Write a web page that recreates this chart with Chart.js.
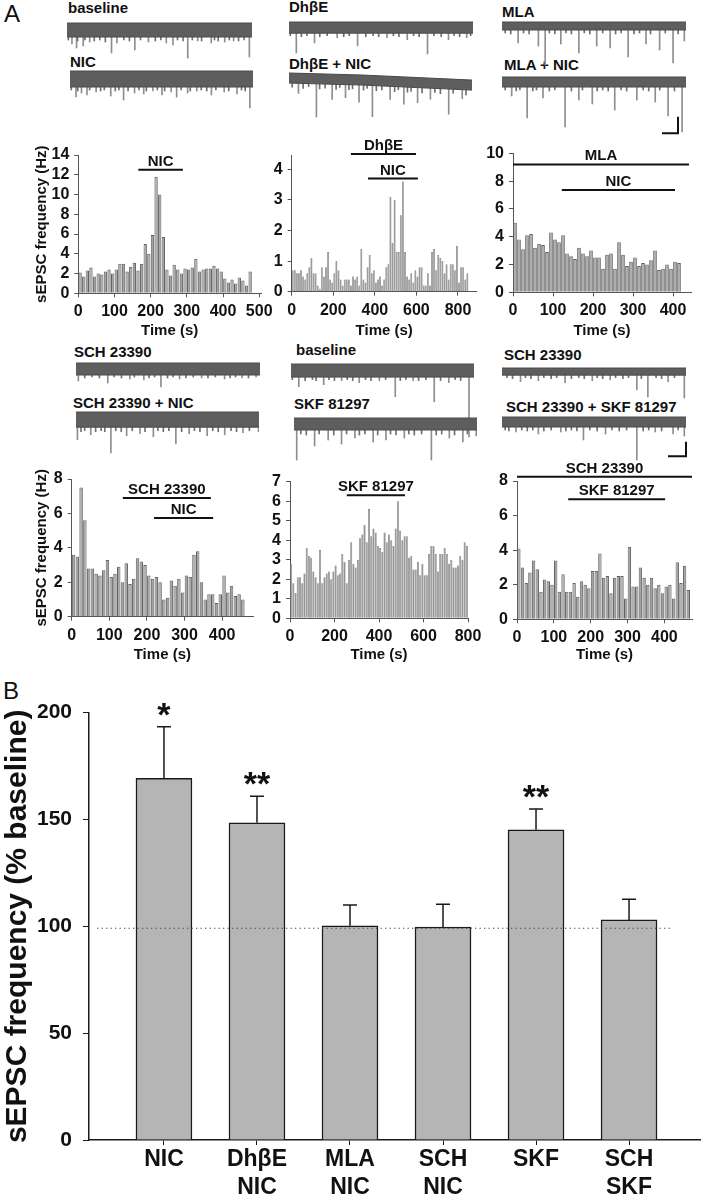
<!DOCTYPE html>
<html><head><meta charset="utf-8">
<script src="https://cdn.jsdelivr.net/npm/chart.js@4.4.0/dist/chart.umd.min.js"></script>
<style>
html,body{margin:0;padding:0;background:#fff;}
body{width:704px;height:1200px;position:relative;overflow:hidden;font-family:'Liberation Sans',Arial,sans-serif;}
canvas{position:absolute;}
.lbl{position:absolute;font-weight:bold;font-size:15px;line-height:16px;white-space:nowrap;color:#111;}
.panel{position:absolute;font-size:24px;line-height:26px;color:#111;}
</style></head><body>
<div class="panel" style="left:4px;top:1px">A</div>
<div class="panel" style="left:3px;top:678px">B</div>
<div class="lbl" style="left:68px;top:0px">baseline</div>
<div class="lbl" style="left:70px;top:54px">NIC</div>
<div class="lbl" style="left:289px;top:-1px">DhβE</div>
<div class="lbl" style="left:289px;top:56px">DhβE + NIC</div>
<div class="lbl" style="left:502px;top:4px">MLA</div>
<div class="lbl" style="left:504px;top:57px">MLA + NIC</div>
<div class="lbl" style="left:74px;top:344px">SCH 23390</div>
<div class="lbl" style="left:73px;top:395px">SCH 23390 + NIC</div>
<div class="lbl" style="left:296px;top:342px">baseline</div>
<div class="lbl" style="left:294px;top:396px">SKF 81297</div>
<div class="lbl" style="left:504px;top:347px">SCH 23390</div>
<div class="lbl" style="left:506px;top:399px">SCH 23390 + SKF 81297</div>
<script>
// ---------------- DATA ----------------
// Panel B
const bCategories = [['NIC'], ['DhβE','NIC'], ['MLA','NIC'], ['SCH','NIC'], ['SKF'], ['SCH','SKF']];
const bMeans = [169.3, 148.5, 100.3, 99.7, 145.2, 103.0];
const bSem = [24.1, 12.4, 9.7, 10.6, 9.7, 9.7];
const bStars = ['*', '**', '', '', '**', ''];
const bYTicks = [0, 50, 100, 150, 200];
const bBaseline = 99.1;
const bBaselineSpan = [-0.72, 5.44];

// Panel A histograms (sEPSC frequency, Hz, 10 s bins)
const binSeconds = 10;
const h1Values = [2.1,1.7,2.3,2.6,1.7,2.0,1.9,2.2,2.4,2.0,2.4,3.0,3.0,2.2,2.7,3.1,2.3,3.0,5.0,4.0,5.9,11.8,10.0,5.7,2.4,1.8,2.9,2.4,2.0,2.5,2.4,2.6,3.5,2.2,2.4,2.5,2.5,2.8,2.5,2.2,1.5,1.1,1.4,1.0,1.6,1.3,0.8,2.2];
const h2Values = [0.7,0.7,0.6,0.6,0.7,0.5,0.4,0.6,0.8,1.1,0.6,0.6,0.2,0.1,0.8,0.5,0.8,1.3,0.4,0.3,0.6,1.0,0.7,0.4,0.2,0.4,0.4,0.4,0.2,0.5,0.4,0.5,0.2,1.4,0.4,0.3,0.8,1.2,0.6,0.7,0.3,0.4,0.5,0.2,0.4,0.8,0.9,3.1,1.6,3.0,1.3,1.3,2.5,3.6,1.3,0.5,0.4,0.6,0.3,0.7,0.5,0.8,0.8,0.2,0.2,0.6,0.2,1.3,1.4,0.7,1.2,1.1,1.0,0.6,0.9,0.4,0.9,0.9,0.7,1.5,0.3,0.8,0.8,0.4,0.6];
const h3Values = [5.0,3.8,3.1,4.1,4.2,3.2,3.5,3.4,2.9,4.3,3.8,3.6,4.1,2.8,2.6,2.4,3.2,2.8,2.6,3.0,2.5,2.5,1.7,2.7,2.8,1.7,3.6,2.7,1.9,2.2,2.5,1.9,2.1,2.0,2.3,3.0,1.6,1.7,2.0,1.7,2.2,2.1];
const h4Values = [3.6,3.5,7.5,5.6,2.8,2.8,2.5,2.4,2.7,3.3,2.3,2.5,2.9,2.0,3.1,1.9,2.2,3.4,3.2,3.0,2.4,2.2,2.3,2.0,1.0,1.1,2.1,1.8,2.2,1.4,2.4,2.3,3.6,3.8,2.0,1.0,1.3,1.3,0.8,1.3,2.4,1.4,1.8,1.2,1.3,1.0];
const h5Values = [2.8,1.8,1.3,2.1,2.1,1.8,2.3,3.6,3.2,3.1,2.4,2.1,1.8,3.5,1.8,2.1,2.3,2.4,2.0,2.4,2.7,2.2,2.3,3.3,2.9,1.8,3.0,3.9,2.8,2.6,3.0,4.1,4.3,4.8,3.9,5.6,4.2,4.6,4.4,3.7,3.6,3.4,4.4,3.9,4.3,4.0,3.7,4.6,6.0,4.5,4.0,4.2,4.2,3.1,3.2,2.5,2.5,2.9,2.2,2.8,2.2,2.2,3.3,3.7,3.7,3.3,2.4,3.3,3.3,3.6,3.3,2.8,3.0,2.6,2.6,2.7,3.2,3.0,3.9,3.7];
const h6Values = [4.1,3.0,2.1,2.7,3.4,2.9,1.6,2.3,2.2,2.0,3.4,1.6,2.6,1.6,1.6,2.1,1.3,2.2,2.0,1.8,2.8,2.8,3.8,2.4,2.5,1.5,2.4,2.5,2.5,1.2,4.2,1.9,1.9,3.0,2.4,2.0,2.4,1.8,2.0,1.5,1.9,2.0,1.2,3.3,2.1,3.1,1.7];

// axis ticks of the histograms
const h1XTicks = [0,100,200,300,400,500], h1YTicks = [0,2,4,6,8,10,12,14];
const h2XTicks = [0,200,400,600,800],     h2YTicks = [0,1,2,3,4];
const h3XTicks = [0,100,200,300,400],     h3YTicks = [0,2,4,6,8,10];
const h4XTicks = [0,100,200,300,400],     h4YTicks = [0,2,4,6,8];
const h5XTicks = [0,200,400,600,800],     h5YTicks = [0,1,2,3,4,5,6,7];
const h6XTicks = [0,100,200,300,400],     h6YTicks = [0,2,4,6,8];

// drug application bars (start s, end s, drawn at y-level)
const h1Drugs = [{label:'NIC', from:166, to:289, level:12.5}];
const h2Drugs = [{label:'DhβE', from:285, to:598, level:4.5}, {label:'NIC', from:367, to:607, level:3.7}];
const h3Drugs = [{label:'MLA', from:0, to:440, level:9.2}, {label:'NIC', from:122, to:405, level:7.36}];
const h4Drugs = [{label:'SCH 23390', from:136, to:370, level:6.9}, {label:'NIC', from:219, to:376, level:5.74}];
const h5Drugs = [{label:'SKF 81297', from:255, to:517, level:6.3}];
const h6Drugs = [{label:'SCH 23390', from:0, to:475, level:8.24}, {label:'SKF 81297', from:139, to:402, level:6.95}];

// Current traces: noise band half-width, baseline drift [pos %, offset],
// large events [pos %, depth] and small events [pos %, depth] (arbitrary amplitude units)
const trBaseline1 = {half:7, drift:[[0,0],[100,0]],
  spikes:[[2.4,14],[4.9,18],[8.5,16],[12,12],[23.8,23],[26.7,13],[36.4,20],[43.7,12],[53.4,13],[57,15],[65,28],[70.4,11],[77.7,13],[85,12],[89.8,11],[98.3,27]],
  small:[[1,10],[6,11],[10,10],[15,11],[18,10],[21,12],[31,10],[34,11],[40,10],[48,11],[51,10],[60,10],[63,11],[68,10],[73,11],[80,10],[82,11],[88,10],[93,11],[96,10]]};
const trNic1 = {half:8, drift:[[0,0],[100,0]],
  spikes:[[3,18],[6,14],[9,16],[14,13],[22,17],[29,21],[35,14],[40,15],[45,12],[50,16],[55,13],[58,18],[64,14],[69,12],[77,16],[84,13],[91,15],[98,29]],
  small:[[1,11],[4.5,12],[11,11],[17,12],[19,11],[25,12],[27,11],[32,12],[38,11],[42,12],[48,11],[52,12],[61,11],[66,12],[72,11],[75,12],[80,11],[87,12],[94,11],[96,12]]};
const trDhbe = {half:5.5, drift:[[0,0],[100,0]],
  spikes:[[3.7,25],[13.6,15],[25.9,10],[37,18],[53,10],[64,12],[75,26],[86.4,12],[96.3,10]],
  small:[[1,8],[7,9],[10,8],[17,9],[21,8],[30,9],[33,8],[42,9],[46,8],[49,9],[57,8],[60,9],[68,8],[71,9],[79,8],[83,9],[90,8],[93,9],[99,8]]};
const trDhbeNic = {half:5, drift:[[0,0],[40,-2],[100,-7]],
  spikes:[[4.9,15],[14.7,38],[23.3,20],[30.6,18],[38,22],[45.3,36],[55,18],[62.5,22],[70,20],[77,16],[87,30],[94.4,14]],
  small:[[2,9],[8,10],[11,8],[17,10],[20,9],[26,10],[28,8],[33,10],[35,9],[41,10],[43,8],[48,10],[51,9],[58,10],[60,8],[65,10],[67,9],[73,10],[80,9],[83,10],[90,9],[97,10]]};
const trMla = {half:4, drift:[[0,0],[100,0]],
  spikes:[[8.5,17],[19.5,20],[23.2,39],[31.7,18],[41.5,27],[51.2,20],[58.5,22],[68.3,31],[78,18],[85.4,24],[92.7,37],[98.8,15]],
  small:[[2,7],[5,8],[12,7],[15,8],[26,7],[29,8],[35,7],[38,8],[45,7],[48,8],[55,7],[62,8],[65,7],[72,8],[75,7],[81,8],[89,7],[96,8]]};
const trMlaNic = {half:5, drift:[[0,0],[100,0]],
  spikes:[[5,14],[13.4,36],[22,16],[34,45],[41.5,18],[48.8,22],[61,28],[73,18],[83,20],[90,34],[97.6,50]],
  small:[[2,8],[8,9],[10,8],[17,9],[19,8],[26,9],[29,8],[38,9],[44,8],[52,9],[55,8],[58,9],[65,8],[68,9],[77,8],[80,9],[86,8],[94,9]]};
const trSch1 = {half:6, drift:[[0,0],[100,0]],
  spikes:[[1,12],[17,14],[29,10],[36.6,11],[45.9,18],[56,10],[68,9],[80.5,10],[90,9],[97.6,8]],
  small:[[5,9],[9,8],[13,9],[21,8],[25,9],[32,8],[40,9],[43,8],[50,9],[53,8],[60,9],[64,8],[72,9],[76,8],[84,9],[87,8],[94,9]]};
const trSchNic = {half:7.5, drift:[[0,0],[100,0]],
  spikes:[[0.5,20],[7.8,15],[18.8,33],[27.4,16],[34.7,14],[42,17],[54.3,24],[61.6,14],[71.4,16],[81,15],[91,13],[99.5,12]],
  small:[[3,12],[5,11],[11,12],[14,11],[16,12],[22,11],[25,12],[31,11],[38,12],[45,11],[48,12],[51,11],[58,12],[65,11],[68,12],[75,11],[78,12],[85,11],[88,12],[95,11]]};
const trBaseline2 = {half:6.5, drift:[[0,0],[100,0]],
  spikes:[[4,16],[17.6,14],[27.4,10],[37,12],[48,10],[56.7,26],[66.5,10],[78,31],[86,12],[97,66]],
  small:[[1,9],[8,10],[12,9],[14,10],[21,9],[24,10],[31,9],[34,10],[41,9],[44,10],[52,9],[60,10],[63,9],[70,10],[74,9],[82,10],[90,9],[93,10]]};
const trSkf = {half:6, drift:[[0,0],[100,0]],
  spikes:[[1.2,36],[11,22],[18.4,16],[25.7,20],[33,14],[43,18],[50,16],[60,14],[74.8,36],[84.6,14],[92,18],[99.3,12]],
  small:[[4,10],[7,11],[14,10],[22,11],[29,10],[36,11],[39,10],[46,11],[53,10],[56,11],[63,10],[66,11],[70,10],[78,11],[81,10],[88,11],[95,10]]};
const trSch2 = {half:3.5, drift:[[0,0],[100,0]],
  spikes:[[9.8,10],[19.5,9],[34,11],[48.8,9],[58.5,8],[73,18],[79,25],[90,10],[98.8,26]],
  small:[[3,6],[6,7],[13,6],[16,7],[23,6],[27,7],[30,6],[38,7],[42,6],[45,7],[52,6],[55,7],[62,6],[66,7],[69,6],[76,7],[84,6],[87,7],[94,6]]};
const trSchSkf = {half:5, drift:[[0,0],[100,0]],
  spikes:[[7.3,10],[19.5,12],[31.7,10],[44,18],[56,12],[73,38],[83,10],[92.7,12],[98.8,14]],
  small:[[2,8],[4,9],[11,8],[14,9],[17,8],[23,9],[27,8],[35,9],[38,8],[41,9],[48,8],[52,9],[60,8],[64,9],[68,8],[77,9],[80,8],[87,9],[96,8]]};
const scaleBarPts = [{x:0,y:0},{x:1,y:0},{x:1,y:1}];

// ---------------- DRAWING ----------------
const FONT = "'Liberation Sans', Arial, sans-serif";
Chart.defaults.font.family = FONT;
Chart.defaults.color = '#111';

function makeCanvas(x, y, w, h) {
  const c = document.createElement('canvas');
  c.width = w; c.height = h;
  c.style.left = x + 'px'; c.style.top = y + 'px';
  c.style.width = w + 'px'; c.style.height = h + 'px';
  document.body.appendChild(c);
  return c;
}

function drugPlugin(list) {
  return { id: 'drugs', afterDraw(chart) {
    const {ctx, scales: {x, y}} = chart;
    ctx.save();
    ctx.strokeStyle = '#111'; ctx.lineWidth = 2; ctx.fillStyle = '#111';
    ctx.font = 'bold 15px ' + FONT; ctx.textAlign = 'center'; ctx.textBaseline = 'alphabetic';
    list.forEach(d => {
      const x1 = x.getPixelForValue(d.from), x2 = x.getPixelForValue(d.to), yy = y.getPixelForValue(d.level);
      ctx.beginPath(); ctx.moveTo(x1, yy); ctx.lineTo(x2, yy); ctx.stroke();
      ctx.fillText(d.label, (x1 + x2) / 2, yy - 4);
    });
    ctx.restore();
  }};
}

function makeHist(cb, area, values, o) {
  const cv = makeCanvas(cb.x, cb.y, cb.w, cb.h);
  const padLeft = o.yTitle ? 33 : 0;
  const data = values.map((v, i) => ({x: i * binSeconds + binSeconds / 2, y: v}));
  new Chart(cv, {
    type: 'bar',
    data: {datasets: [{data, backgroundColor: o.fill || '#a4a4a4', borderColor: '#626262', borderWidth: o.bw === undefined ? 1 : o.bw, borderSkipped: 'bottom', barPercentage: 0.92, categoryPercentage: 1}]},
    options: {
      responsive: false, animation: false, events: [],
      layout: {padding: {left: padLeft, top: area.T - cb.y, right: cb.x + cb.w - area.R, bottom: 0}},
      plugins: {legend: {display: false}, tooltip: {enabled: false}},
      scales: {
        x: {type: 'linear', min: 0, max: o.xmax, offset: false,
            afterBuildTicks: s => { s.ticks = o.xticks.map(v => ({value: v})); },
            grid: {display: true, drawOnChartArea: false, drawTicks: true, tickLength: 4, color: '#555', offset: false},
            border: {display: true, color: '#555', width: 1},
            ticks: {autoSkip: false, maxRotation: 0, padding: 5, color: '#111', font: {size: 16, weight: 'bold'}},
            title: {display: true, text: 'Time (s)', padding: 0, color: '#111', font: {size: 15, weight: 'bold'}},
            afterFit: s => { s.height = cb.y + cb.h - area.B; }},
        y: {type: 'linear', min: 0, max: o.ymax,
            afterBuildTicks: s => { s.ticks = o.yticks.map(v => ({value: v})); },
            grid: {display: true, drawOnChartArea: false, drawTicks: true, tickLength: 4, color: '#555'},
            border: {display: true, color: '#555', width: 1},
            ticks: {autoSkip: false, padding: 5, color: '#111', font: {size: 16, weight: 'bold'}},
            title: {display: !!o.yTitle, text: 'sEPSC frequency (Hz)', padding: 0, color: '#111', font: {size: 15, weight: 'bold'}},
            afterFit: s => { s.width = area.L - cb.x - padLeft; }}
      }
    },
    plugins: [drugPlugin(o.drugs)]
  });
}

function makeTrace(box, tr) {
  const [l, r, cy] = box;
  const driftAt = p => {
    const d = tr.drift;
    for (let k = 1; k < d.length; k++) {
      if (p <= d[k][0]) { const [p0, o0] = d[k - 1], [p1, o1] = d[k]; return o0 + (o1 - o0) * (p - p0) / (p1 - p0); }
    }
    return d[d.length - 1][1];
  };
  const topU = tr.half + 2 + Math.max(...tr.drift.map(d => d[1]));
  const botU = 3 - Math.min(...tr.spikes.map(s => driftAt(s[0]) - s[1]), ...tr.drift.map(d => d[1] - tr.half));
  const cv = makeCanvas(l, Math.round(cy - topU), r - l, Math.round(topU + botU));
  const ev = list => list.map(([p, d]) => ({x: p, y: [driftAt(p) - tr.half + 1, driftAt(p) - d]}));
  new Chart(cv, {
    type: 'bar',
    data: {datasets: [
      {type: 'bar', data: ev(tr.spikes), backgroundColor: '#8e8e8e', barThickness: 1, order: 3},
      {type: 'bar', data: ev(tr.small), backgroundColor: '#6f6f6f', barThickness: 1, order: 2},
      {type: 'line', data: tr.drift.map(([p, o]) => ({x: p, y: o + tr.half})), borderColor: '#4a4a4a', borderWidth: 1, pointRadius: 0, fill: false, order: 1},
      {type: 'line', data: tr.drift.map(([p, o]) => ({x: p, y: o - tr.half})), borderColor: '#4a4a4a', borderWidth: 1, pointRadius: 0, fill: '-1', backgroundColor: '#5e5e5e', order: 1}
    ]},
    options: {
      responsive: false, animation: false, events: [],
      layout: {padding: 0},
      plugins: {legend: {display: false}, tooltip: {enabled: false}},
      scales: {
        x: {type: 'linear', min: 0, max: 100, display: false, offset: false},
        y: {type: 'linear', min: -botU, max: topU, display: false}
      }
    }
  });
}

function makeScaleBar(x, y, w, h, xr, yr) {
  const cv = makeCanvas(x, y, w, h);
  new Chart(cv, {
    type: 'line',
    data: {datasets: [{data: scaleBarPts, borderColor: '#111', borderWidth: 2, pointRadius: 0, fill: false}]},
    options: {responsive: false, animation: false, events: [], layout: {padding: 0},
      plugins: {legend: {display: false}, tooltip: {enabled: false}},
      scales: {x: {type: 'linear', min: xr[0], max: xr[1], display: false}, y: {type: 'linear', min: yr[0], max: yr[1], display: false}}}
  });
}

// traces
makeTrace([67, 252, 30], trBaseline1);
makeTrace([70, 253, 79], trNic1);
makeTrace([289, 473, 27.5], trDhbe);
makeTrace([289, 472, 78], trDhbeNic);
makeTrace([502, 686, 26], trMla);
makeTrace([502, 686, 82], trMlaNic);
makeTrace([76, 260, 369], trSch1);
makeTrace([76, 259, 419.5], trSchNic);
makeTrace([291, 474, 370.5], trBaseline2);
makeTrace([294, 477, 424], trSkf);
makeTrace([502, 686, 371.5], trSch2);
makeTrace([502, 686, 422], trSchSkf);
makeScaleBar(660, 115, 20, 20, [-0.125, 1.125], [-0.1, 1.1]);
makeScaleBar(666, 440, 22, 18, [-0.111, 1.111], [-0.111, 1.111]);

// histograms
makeHist({x: 0, y: 130, w: 282, h: 210}, {L: 78.3, T: 155, R: 261, B: 293.3}, h1Values, {xmax: 505, xticks: h1XTicks, ymax: 14, yticks: h1YTicks, yTitle: true, drugs: h1Drugs});
makeHist({x: 255, y: 125, w: 240, h: 215}, {L: 291.7, T: 155, R: 476.7, B: 291.7}, h2Values, {xmax: 890, xticks: h2XTicks, ymax: 4.47, yticks: h2YTicks, drugs: h2Drugs, fill: '#929292', bw: 0.5});
makeHist({x: 480, y: 125, w: 224, h: 215}, {L: 513, T: 153.3, R: 691, B: 292.3}, h3Values, {xmax: 445, xticks: h3XTicks, ymax: 10, yticks: h3YTicks, drugs: h3Drugs});
makeHist({x: 0, y: 455, w: 270, h: 209}, {L: 71.7, T: 479, R: 253, B: 616.7}, h4Values, {xmax: 482, xticks: h4XTicks, ymax: 8, yticks: h4YTicks, yTitle: true, drugs: h4Drugs});
makeHist({x: 255, y: 455, w: 235, h: 209}, {L: 290, T: 481.7, R: 468, B: 618.3}, h5Values, {xmax: 800, xticks: h5XTicks, ymax: 7, yticks: h5YTicks, drugs: h5Drugs, fill: '#929292', bw: 0.5});
makeHist({x: 480, y: 455, w: 224, h: 209}, {L: 517, T: 481, R: 692, B: 619.3}, h6Values, {xmax: 475, xticks: h6XTicks, ymax: 8, yticks: h6YTicks, drugs: h6Drugs});

// Panel B
(function () {
  const cb = {x: 0, y: 675, w: 704, h: 525};
  const area = {L: 89, T: 712.7, R: 700, B: 1140};
  const cv = makeCanvas(cb.x, cb.y, cb.w, cb.h);
  const errPlugin = { id: 'err', afterDatasetsDraw(chart) {
    const {ctx, scales: {x, y}} = chart;
    ctx.save();
    ctx.strokeStyle = '#1a1a1a'; ctx.lineWidth = 1.5; ctx.fillStyle = '#111';
    bMeans.forEach((m, i) => {
      const px = x.getPixelForValue(i), y0 = y.getPixelForValue(m), y1 = y.getPixelForValue(m + bSem[i]);
      ctx.beginPath(); ctx.moveTo(px, y0); ctx.lineTo(px, y1); ctx.moveTo(px - 7, y1); ctx.lineTo(px + 7, y1); ctx.stroke();
      if (bStars[i]) {
        ctx.font = 'bold 34px ' + FONT; ctx.textAlign = 'center'; ctx.textBaseline = 'alphabetic';
        ctx.fillText(bStars[i], px, y1 - 1);
      }
    });
    ctx.restore();
  }};
  new Chart(cv, {
    type: 'bar',
    data: {datasets: [
      {type: 'line', data: bBaselineSpan.map(v => ({x: v, y: bBaseline})), borderColor: '#444', borderWidth: 1.2, borderDash: [1.3, 3.2], pointRadius: 0, fill: false, order: 0},
      {type: 'bar', data: bMeans.map((v, i) => ({x: i, y: v})), backgroundColor: '#b5b5b5', borderColor: '#1a1a1a', borderWidth: 1.5, borderSkipped: 'bottom', barThickness: 56, order: 1}
    ]},
    options: {
      responsive: false, animation: false, events: [],
      layout: {padding: {left: 0, top: area.T - cb.y, right: cb.x + cb.w - area.R, bottom: 0}},
      plugins: {legend: {display: false}, tooltip: {enabled: false}},
      scales: {
        x: {type: 'linear', min: -0.806, max: 5.763, offset: false,
            afterBuildTicks: s => { s.ticks = bCategories.map((_, i) => ({value: i})); },
            grid: {display: true, drawOnChartArea: false, drawTicks: true, tickLength: 5, color: '#1a1a1a', offset: false},
            border: {display: true, color: '#1a1a1a', width: 1.5},
            ticks: {autoSkip: false, maxRotation: 0, padding: 1, color: '#111', font: {size: 23, weight: 'bold'}, callback: v => bCategories[v]},
            afterFit: s => { s.height = cb.y + cb.h - area.B; }},
        y: {type: 'linear', min: 0, max: 200,
            afterBuildTicks: s => { s.ticks = bYTicks.map(v => ({value: v})); },
            grid: {display: true, drawOnChartArea: false, drawTicks: true, tickLength: 6, color: '#1a1a1a'},
            border: {display: true, color: '#1a1a1a', width: 1.5},
            ticks: {autoSkip: false, padding: 11, color: '#111', font: {size: 21, weight: 'bold'}},
            title: {display: true, text: 'sEPSC frequency (% baseline)', padding: 0, color: '#111', font: {size: 30, weight: 'bold'}},
            afterFit: s => { s.width = area.L - cb.x; }}
      }
    },
    plugins: [errPlugin]
  });
})();
</script>
</body></html>
